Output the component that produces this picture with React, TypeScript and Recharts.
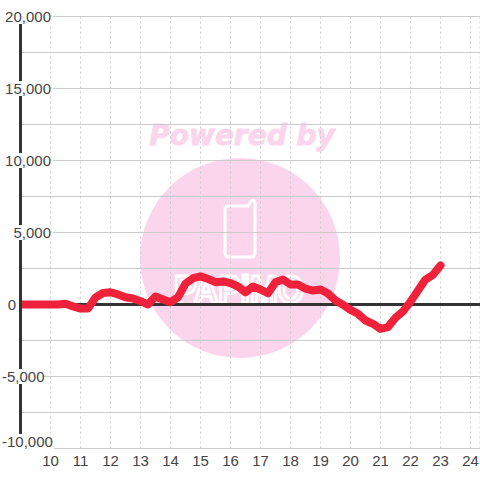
import React from "react";
import { LineChart, Line, XAxis, YAxis, CartesianGrid, ReferenceLine } from "recharts";

const hours = [9,9.25,9.5,9.75,10,10.25,10.5,10.75,11,11.25,11.5,11.75,12,12.25,12.5,12.75,13,13.25,13.5,13.75,14,14.25,14.5,14.75,15,15.25,15.5,15.75,16,16.25,16.5,16.75,17,17.25,17.5,17.75,18,18.25,18.5,18.75,19,19.25,19.5,19.75,20,20.25,20.5,20.75,21,21.25,21.5,21.75,22,22.25,22.5,22.75,23];
const values = [0,0,0,0,0,0,50,-130,-280,-280,490,800,850,700,500,420,230,0,550,350,160,500,1450,1830,1950,1780,1550,1600,1480,1250,850,1250,1040,780,1550,1730,1390,1390,1100,970,1040,760,280,-20,-370,-640,-1110,-1340,-1690,-1570,-920,-480,200,970,1730,2060,2710];
const xTicks = [10,11,12,13,14,15,16,17,18,19,20,21,22,23,24];
const yTicks = [-10000,-7500,-5000,-2500,0,2500,5000,7500,10000,12500,15000,17500,20000];
const data = hours.map((h, i) => ({ h, v: values[i] }));

const FONT = '"Liberation Sans", Arial, sans-serif';

function YTick(props: any) {
  const { y, payload } = props;
  const v = payload.value as number;
  if (v % 5000 !== 0) return null;
  const label = v.toLocaleString("en-US");
  const cy = v === -10000 ? y - 6.5 : y + 0.5;
  let rect = { x: 4, w: 49 };
  let tx = 51;
  let anchor = "end";
  if (v === 0) { rect = { x: 7, w: 10 }; tx = 16; }
  else if (v < 0) { tx = 2; anchor = "start"; rect = v === -10000 ? { x: 1, w: 53 } : { x: 1, w: 43 }; }
  else if (v === 5000) rect = { x: 14, w: 39 };
  return (
    <g>
      {v !== 0 && <rect x={rect.x} y={cy - 8} width={rect.w} height={v === -10000 ? 16 : 15} fill="#fff" />}
      <text x={tx} y={cy + 5} textAnchor={anchor as any} fontFamily={FONT} fontSize={15} fill="#444">{label}</text>
    </g>
  );
}

function Watermark() {
  return (
    <svg width={480} height={480} style={{ position: "absolute", left: 0, top: 0 }}>
      <circle cx={240} cy={258} r={100} fill="#fbd5ec" />
      <text x={242} y={145} textAnchor="middle" fontFamily="DejaVu Sans" fontWeight="bold" fontStyle="italic" fontSize={28} fill="#fbd5ec" stroke="#fbd5ec" strokeWidth={0.8}>Powered by</text>
      <path d="M228 206 H248 L251 201 Q255 199 255 204 V253 Q255 257 251 257 H229 Q225 257 225 253 V209 Q225 206 228 206 Z" fill="none" stroke="#fff" strokeWidth={3} />
      <text x={239} y={303} textAnchor="middle" fontFamily={FONT} fontWeight="bold" fontSize={38} textLength={130} lengthAdjust="spacingAndGlyphs" fill="none" stroke="#fff" strokeWidth={3}>PAPiMO</text>
    </svg>
  );
}

export default function App() {
  return (
    <div style={{ position: "absolute", left: 0, top: 0, width: 480, height: 480, background: "#fff", overflow: "hidden" }}>
      <Watermark />
      <div style={{ position: "absolute", left: 0, top: 0 }}>
        <LineChart width={480} height={480} data={data} margin={{ top: 16.5, right: 0, bottom: 0, left: 0 }}>
          <CartesianGrid stroke="#ccc" vertical={false} />
          <CartesianGrid stroke="#ccc" horizontal={false} strokeDasharray="2 3" />
          <XAxis dataKey="h" type="number" domain={[9, 24.317]} ticks={xTicks} allowDataOverflow axisLine={false} tickLine={false} height={31.5}
            tick={{ fontFamily: FONT, fontSize: 15, fill: "#444" }} tickMargin={1} interval={0} />
          <YAxis type="number" domain={[-10000, 20000]} ticks={yTicks} width={20.5} interval={0} allowDataOverflow tickLine={false}
            axisLine={{ stroke: "#333", strokeWidth: 3 }} tick={<YTick />} />
          <ReferenceLine y={0} stroke="#333" strokeWidth={3} />
          <Line dataKey="v" type="linear" stroke="#f0213a" strokeWidth={8} strokeLinecap="round" strokeLinejoin="round" dot={false} activeDot={false} isAnimationActive={false} />
        </LineChart>
      </div>
    </div>
  );
}
